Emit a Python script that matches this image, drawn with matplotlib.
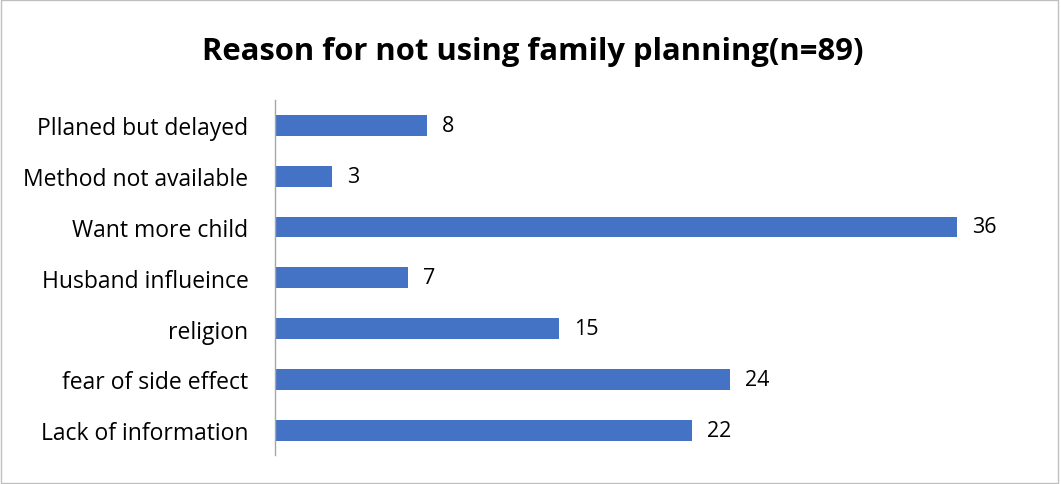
import matplotlib.pyplot as plt
from matplotlib.patches import Rectangle

# categories listed bottom to top
categories = ['Lack of information', 'fear of side effect', 'religion',
              'Husband influeince', 'Want more child', 'Method not available',
              'Pllaned but delayed']
counts = [22, 24, 15, 7, 36, 3, 8]

title = 'Reason for not using family planning(n=89)'

plt.rcParams['font.family'] = ['Open Sans', 'DejaVu Sans']

fig = plt.figure(figsize=(10.61, 4.85), dpi=100)
ax = fig.add_axes([0.2592, 0.0588, 0.7144, 0.7330])

ypos = range(len(categories))
ax.barh(ypos, counts, height=0.41, color='#4472C4')
for y, v in zip(ypos, counts):
    ax.text(v + 0.8, y, str(v), va='center', ha='left', fontsize=15.5, color='#000000')

ax.set_xlim(0, 40)
ax.set_ylim(-0.5, len(categories) - 0.5)
ax.set_yticks(list(ypos))
ax.set_yticklabels(categories, fontsize=16.5, color='#000000')
ax.tick_params(axis='y', length=0, pad=19)
ax.set_xticks([])
for side in ['top', 'right', 'bottom']:
    ax.spines[side].set_visible(False)
ax.spines['left'].set_color('#A6A6A6')
ax.spines['left'].set_linewidth(1.0)

fig.text(0.502, 0.893, title, ha='center', va='center', fontsize=22.3,
         fontweight='bold', color='#000000')

# chart border
fig.patches.append(Rectangle((0.001, 0.003), 0.996, 0.994, transform=fig.transFigure,
                             fill=False, edgecolor='#BFBFBF', linewidth=1.0))

fig.savefig('out.png', dpi=100)
